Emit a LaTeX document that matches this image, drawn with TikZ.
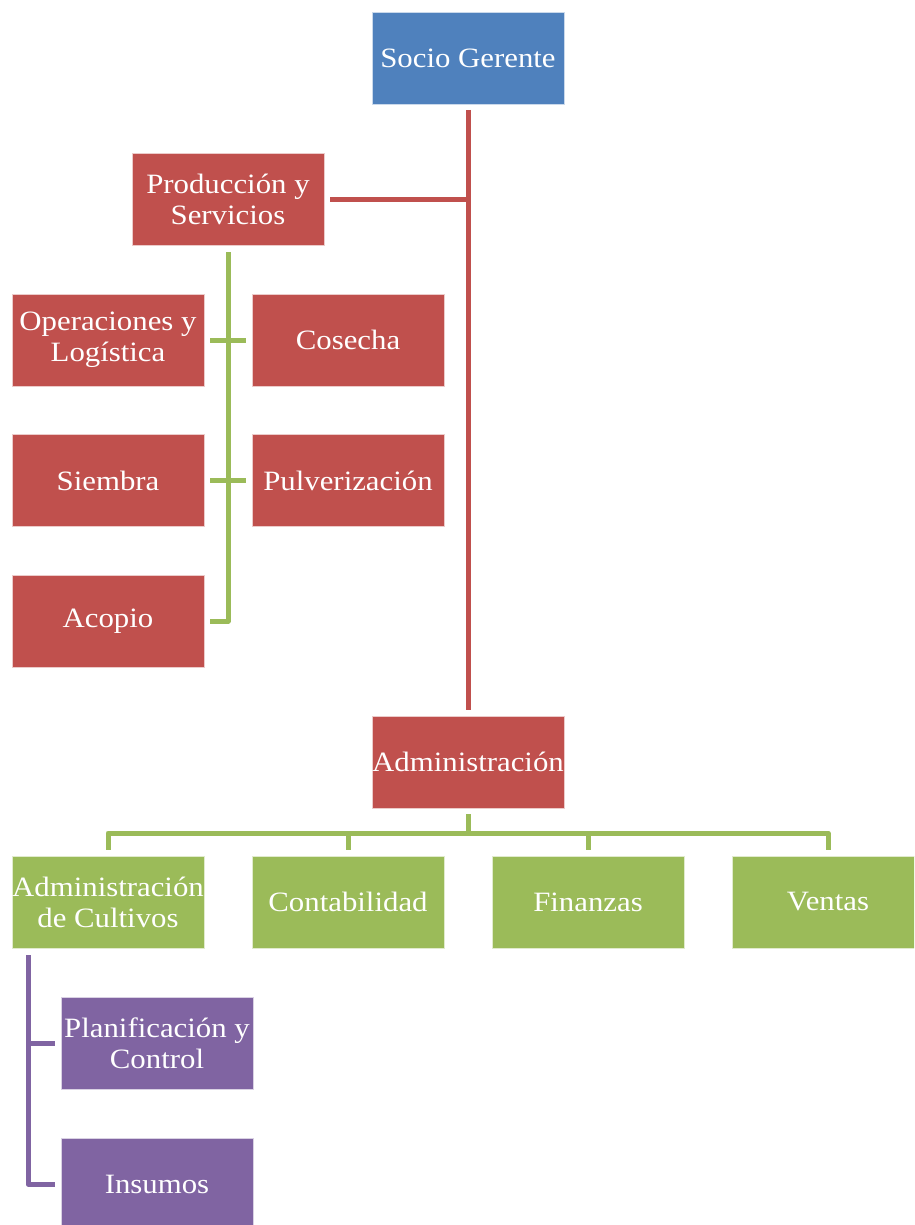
\documentclass[tikz,border=0pt]{standalone}
\usepackage{fontspec}
\setmainfont{Liberation Serif}[FakeStretch=1.1]
\definecolor{cblue}{HTML}{4F81BD}
\definecolor{cred}{HTML}{C0504D}
\definecolor{cgreen}{HTML}{9BBB59}
\definecolor{cpurple}{HTML}{8064A2}
\begin{document}
\begin{tikzpicture}[x=1pt,y=-1pt,
  box/.style={minimum width=192pt,minimum height=92pt,inner sep=0pt,align=center,
    text=white,font=\fontsize{28}{31}\selectfont,draw=white!70!#1,line width=0.8pt,fill=#1},
  link/.style={line width=5pt,draw=#1,line join=round}]
\useasboundingbox (0,0) rectangle (914,1225);
\clip (0,0) rectangle (914,1225);
% top level
\node[box=cblue] (socio) at (468,58.5) {Socio Gerente};
\node[box=cred] (prod) at (228,199) {Producción y\\Servicios};
\node[box=cred] (admin) at (468,762) {Administración};
% production branch
\node[box=cred] (oper) at (108,340) {Operaciones y\\Logística};
\node[box=cred] (cosecha) at (348,340) {Cosecha};
\node[box=cred] (siembra) at (108,480.5) {Siembra};
\node[box=cred] (pulv) at (348,480.5) {Pulverización};
\node[box=cred] (acopio) at (108,621) {Acopio};
% administration branch
\node[box=cgreen] (adcult) at (108,902) {Administración\\de Cultivos};
\node[box=cgreen] (conta) at (348,902) {Contabilidad};
\node[box=cgreen] (fin) at (588,902) {Finanzas};
\node[box=cgreen] (ventas) at (828,902) {Ventas};
\node[box=cpurple] (plan) at (157,1043) {Planificación y\\Control};
\node[box=cpurple] (insumos) at (157,1184) {Insumos};
% junction coordinates
\coordinate (bus) at (0,833);
\coordinate (pbar) at (28,948);
% red trunk
\draw[link=cred,shorten <=5pt,shorten >=6pt] (socio.south) -- (admin.north);
\draw[link=cred,shorten <=6pt] (prod.east) -- (prod.east -| socio.south);
% production subtree
\draw[link=cgreen,shorten <=7pt,shorten >=6pt] (prod.south) -- (acopio.east -| prod.south) -- (acopio.east);
\draw[link=cgreen,shorten <=6pt,shorten >=6pt] (oper.east) -- (cosecha.west);
\draw[link=cgreen,shorten <=6pt,shorten >=6pt] (siembra.east) -- (pulv.west);
% administration subtree
\draw[link=cgreen,shorten <=6pt] (admin.south) -- (admin.south |- bus);
\draw[link=cgreen,shorten <=6pt,shorten >=6pt] (adcult.north) -- (adcult.north |- bus) -- (ventas.north |- bus) -- (ventas.north);
\draw[link=cgreen,shorten <=6pt] (conta.north) -- (conta.north |- bus);
\draw[link=cgreen,shorten <=6pt] (fin.north) -- (fin.north |- bus);
% crop administration subtree
\draw[link=cpurple,shorten <=7pt,shorten >=6pt] (adcult.south -| pbar) -- (insumos.west -| pbar) -- (insumos.west);
\draw[link=cpurple,shorten >=6pt] (plan.west -| pbar) -- (plan.west);
\end{tikzpicture}
\end{document}
